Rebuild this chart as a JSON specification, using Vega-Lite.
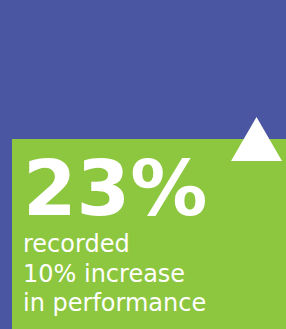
{
  "$schema": "https://vega.github.io/schema/vega-lite/v6.json",
  "width": 286,
  "height": 329,
  "autosize": {"type": "fit", "contains": "padding"},
  "padding": 0,
  "background": "#4B56A2",
  "config": {"view": {"stroke": null}},
  "datasets": {
    "panel": [{"x": 12, "x2": 286, "y": 139, "y2": 329}],
    "marker": [{"x": 256.5, "y": 139}],
    "big": [{"label": "23%", "x": 23, "y": 215}],
    "lines": [
      {"label": "recorded", "x": 23, "y": 252},
      {"label": "10% increase", "x": 23, "y": 282},
      {"label": "in performance", "x": 23, "y": 311}
    ]
  },
  "layer": [
    {
      "data": {"name": "panel"},
      "mark": {"type": "rect", "color": "#8DC63F"},
      "encoding": {
        "x": {"field": "x", "type": "quantitative", "scale": {"domain": [0, 286], "nice": false, "zero": false}, "axis": null},
        "x2": {"field": "x2"},
        "y": {"field": "y", "type": "quantitative", "scale": {"domain": [0, 329], "nice": false, "zero": false, "reverse": true}, "axis": null},
        "y2": {"field": "y2"}
      }
    },
    {
      "data": {"name": "marker"},
      "mark": {"type": "point", "shape": "triangle-up", "filled": true, "color": "#FFFFFF", "opacity": 1, "size": 2601},
      "encoding": {
        "x": {"field": "x", "type": "quantitative"},
        "y": {"field": "y", "type": "quantitative"}
      }
    },
    {
      "data": {"name": "big"},
      "mark": {"type": "text", "align": "left", "baseline": "alphabetic", "font": "DejaVu Sans", "fontWeight": "bold", "fontSize": 77, "color": "#FFFFFF"},
      "encoding": {
        "x": {"field": "x", "type": "quantitative"},
        "y": {"field": "y", "type": "quantitative"},
        "text": {"field": "label"}
      }
    },
    {
      "data": {"name": "lines"},
      "mark": {"type": "text", "align": "left", "baseline": "alphabetic", "font": "DejaVu Sans", "fontWeight": "normal", "fontSize": 24, "color": "#FFFFFF"},
      "encoding": {
        "x": {"field": "x", "type": "quantitative"},
        "y": {"field": "y", "type": "quantitative"},
        "text": {"field": "label"}
      }
    }
  ]
}
